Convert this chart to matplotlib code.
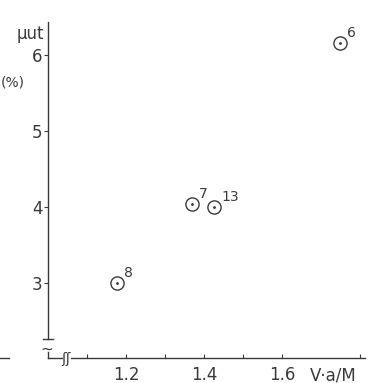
import matplotlib.pyplot as plt

# data
va_m = [1.177, 1.37, 1.426, 1.75]
mu_ut = [3.0, 4.04, 4.0, 6.16]
labels = ['8', '7', '13', '6']
xticks = [1.2, 1.4, 1.6]
yticks = [3, 4, 5, 6]

ink = '#3a3a3a'
plt.rcParams['font.family'] = ['DejaVu Sans']

fig = plt.figure(figsize=(3.74, 3.83), dpi=100)
ax = fig.add_axes([48/374, 1 - 358/383, 317/374, 336/383])
ax.set_xlim(1.0, 1.0 + 317/390)
ax.set_ylim(3 - 75/76, 6 + 33/76)

ax.plot(va_m, mu_ut, 'o', ms=9.5, mfc='none', mec=ink, mew=1.0, ls='none')
ax.plot(va_m, mu_ut, '.', ms=2, color=ink, ls='none')
for x, y, t in zip(va_m, mu_ut, labels):
	ax.annotate(t, (x, y), xytext=(5, 2), textcoords='offset points',
		fontsize=10, color=ink, ha='left', va='bottom')

# axes with break marks
for s in ['top', 'right', 'left', 'bottom']:
	ax.spines[s].set_visible(False)
ax.plot([1.0, 1.0], [2.26, 6 + 33/76], color=ink, lw=1.0, clip_on=False)
ax.plot([0.988, 1.012], [2.26, 2.26], color=ink, lw=1.0, clip_on=False)
ax.plot([1.0, 1.0], [2.013, 2.09], color=ink, lw=1.0, clip_on=False)
ax.plot([1.0, 1.035], [2.013, 2.013], color=ink, lw=1.0, clip_on=False)
ax.plot([1.06, 1.0 + 317/390], [2.013, 2.013], color=ink, lw=1.0, clip_on=False)
ax.text(0.998, 2.13, '~', fontsize=11, color=ink, ha='center', va='center')
ax.text(1.047, 2.0, 'ʃʃ', fontsize=10, color=ink, ha='center', va='center')

ax.set_xticks([1.1, 1.2, 1.3, 1.4, 1.5, 1.6, 1.8])
ax.set_xticklabels(['', '1.2', '', '1.4', '', '1.6', ''])
ax.set_yticks(yticks)
ax.set_yticklabels([str(v) for v in yticks])
ax.tick_params(axis='x', direction='in', length=3, width=0.8, colors=ink,
	labelsize=12, pad=6)
ax.tick_params(axis='y', direction='out', length=3, width=0.8, colors=ink,
	labelsize=12, pad=1)

fig.text(333/374, 1 - 375/383, 'V·a/M', fontsize=12, color=ink,
	ha='center', va='center')
fig.text(44/374, 1 - 34/383, 'μut', fontsize=12, color=ink,
	ha='right', va='center')
fig.text(1/374, 1 - 82/383, '(%)', fontsize=10, color=ink,
	ha='left', va='center')
fig.lines.append(plt.Line2D([0, 9/374], [1 - 358/383, 1 - 358/383],
	transform=fig.transFigure, color=ink, lw=1.0))

fig.savefig('out.png', dpi=100)
